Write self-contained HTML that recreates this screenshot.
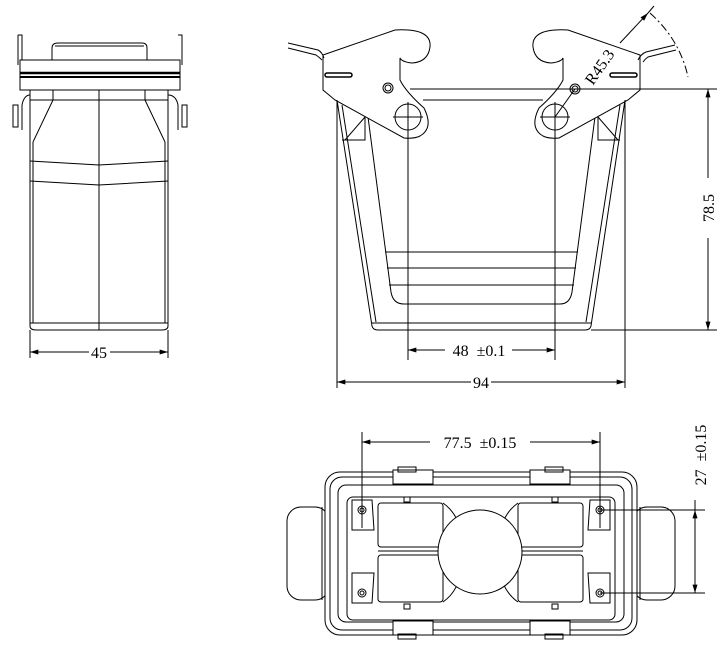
<!DOCTYPE html>
<html><head><meta charset="utf-8"><style>
html,body{margin:0;padding:0;background:#fff}
svg{display:block}
text{font-family:"Liberation Serif","Noto Serif CJK SC",serif;font-size:16px;fill:#000}
</style></head><body>
<svg width="726" height="651" viewBox="0 0 726 651" xmlns="http://www.w3.org/2000/svg">
<defs>
<marker id="a" viewBox="0 0 10 6" refX="10" refY="3" markerWidth="12" markerHeight="5" orient="auto-start-reverse" markerUnits="userSpaceOnUse"><path d="M0,0 L10,3 L0,6 z" fill="#000"/></marker>
</defs>
<g fill="none" stroke="#000" stroke-width="1">
<!-- SIDE VIEW -->
<path d="M52,60 L52,48 Q52,43 58,43 L142,43 Q147,43 147,48 L147,60"/>
<line x1="55" y1="46" x2="144" y2="46"/>
<path d="M18,35 L22,35 L22,60 M178,35 L182,35 L182,60 M18,35 L18,65 M182,35 L182,65"/>
<rect x="20" y="60" width="160" height="30"/>
<line x1="20" y1="73" x2="180" y2="73" stroke-width="2.5"/>
<line x1="20" y1="77" x2="180" y2="77" stroke-width="2"/>
<path d="M30,90 L30,326 Q30,330 36,330 L162,330 Q168,330 168,326 L168,90"/>
<line x1="33" y1="142" x2="33" y2="323"/><line x1="165" y1="142" x2="165" y2="323"/>
<line x1="30" y1="100" x2="168" y2="100"/>
<line x1="53" y1="100" x2="53" y2="90"/><line x1="145" y1="100" x2="145" y2="90"/>
<path d="M53,100 L33,142 M145,100 L165,142"/>
<line x1="99" y1="90" x2="99" y2="330"/>
<path d="M30,161 L99,165 L168,161 M30,181 L99,185 L168,181"/>
<line x1="30" y1="323" x2="168" y2="323"/>
<path d="M30,95 Q24,95 22,105 L22,130 M168,95 Q176,95 178,105 L178,130"/>
<rect x="13" y="105" width="5" height="22"/><rect x="182" y="105" width="5" height="22"/>
<line x1="30" y1="330" x2="30" y2="358"/><line x1="168" y1="330" x2="168" y2="358"/>
<line x1="30" y1="352" x2="89" y2="352" marker-start="url(#a)"/>
<line x1="110" y1="352" x2="168" y2="352" marker-end="url(#a)"/>

<!-- FRONT VIEW -->
<path d="M337,100 L372,326 Q373,330 378,330 L585,330 Q590,330 591,326 L625,100"/>
<path d="M342,105 L376,322 M620,105 L586,322"/>
<line x1="372" y1="323" x2="591" y2="323"/>
<path d="M368,117 L391,292 Q393,304 404,304 L560,304 Q570,304 572,292 L595,117"/>
<path d="M365,117 L365,140 L342,140 M598,117 L598,140 L620,140 M365,117 L345,140 M598,117 L618,140"/>
<line x1="385" y1="252" x2="578" y2="252"/><line x1="387" y1="268" x2="576" y2="268"/><line x1="389" y1="285" x2="574" y2="285"/>
<path d="M323,55 L395,30 Q432,28 430,47 Q428,62 412,63 Q402,62 400,58 L400,80 Q406,92 424,108 Q434,128 420,136 Q414,139 404,138 L335,100 L323,90 Z" fill="#fff"/>
<circle cx="408" cy="117" r="13" fill="#fff"/>
<line x1="393" y1="117" x2="423" y2="117"/><line x1="408" y1="102" x2="408" y2="360"/>
<circle cx="388" cy="88" r="5"/><circle cx="388" cy="88" r="3"/>
<path d="M640,55 L568,30 Q531,28 533,47 Q535,62 551,63 Q561,62 563,58 L563,80 Q557,92 539,108 Q529,128 543,136 Q549,139 559,138 L628,100 L640,90 Z" fill="#fff"/>
<circle cx="555" cy="117" r="13" fill="#fff"/>
<line x1="540" y1="117" x2="570" y2="117"/><line x1="555" y1="102" x2="555" y2="360"/>
<circle cx="575" cy="89" r="5"/><circle cx="575" cy="89" r="3"/>
<line x1="423" y1="100" x2="543" y2="100"/>
<line x1="410" y1="89" x2="717" y2="89"/>
<line x1="591" y1="330" x2="717" y2="330"/>
<path d="M288,43 L318,50 Q322,52 324,58 M288,48 L316,55 Q319,57 322,60"/>
<path d="M675,45 L646,52 Q641,54 638,60 M676,50 L648,57 Q645,59 643,62"/>
<rect x="325" y="73" width="27" height="4" rx="2" stroke-width="1.5"/>
<rect x="610" y="73" width="27" height="4" rx="2" stroke-width="1.5"/>
<line x1="337" y1="100" x2="337" y2="388"/><line x1="625" y1="100" x2="625" y2="388"/>
<path d="M650,13 Q680,40 688,77" stroke-dasharray="8,3,2,3"/>
<line x1="555" y1="117" x2="575" y2="89"/>
<line x1="620" y1="43" x2="648" y2="13" marker-end="url(#a)"/>
<line x1="648" y1="13" x2="654" y2="6"/>
<line x1="708" y1="89" x2="708" y2="178" marker-start="url(#a)"/>
<line x1="708" y1="238" x2="708" y2="330" marker-end="url(#a)"/>
<line x1="408" y1="350" x2="445" y2="350" marker-start="url(#a)"/>
<line x1="512" y1="350" x2="555" y2="350" marker-end="url(#a)"/>
<line x1="337" y1="382" x2="471" y2="382" marker-start="url(#a)"/>
<line x1="491" y1="382" x2="625" y2="382" marker-end="url(#a)"/>

<!-- BOTTOM VIEW -->
<rect x="287" y="507" width="42" height="93" rx="14"/>
<rect x="633" y="507" width="42" height="93" rx="14"/>
<line x1="322" y1="507" x2="322" y2="600"/><line x1="640" y1="507" x2="640" y2="600"/>
<rect x="325" y="472" width="312" height="163" rx="15" fill="#fff"/>
<rect x="330" y="477" width="302" height="153" rx="12"/>
<rect x="338" y="485" width="286" height="137" rx="8"/>
<rect x="347" y="497" width="268" height="123" rx="6"/>
<rect x="378" y="503" width="65" height="44" rx="3"/>
<rect x="378" y="555" width="65" height="47" rx="3"/>
<rect x="518" y="503" width="65" height="44" rx="3"/>
<rect x="518" y="555" width="65" height="47" rx="3"/>
<path d="M443,503 Q460,515 462,540 M443,602 Q460,590 462,565 M518,503 Q501,515 499,540 M518,602 Q501,590 499,565"/>
<path d="M378,551 L443,551 M518,551 L583,551"/>
<circle cx="480" cy="552" r="42" fill="#fff"/>
<path d="M352,500 L372,500 L374,530 L352,530 Z M352,603 L372,603 L374,573 L352,573 Z M610,500 L590,500 L588,530 L610,530 Z M610,603 L590,603 L588,573 L610,573 Z"/>
<circle cx="362" cy="510" r="4"/><circle cx="362" cy="510" r="2"/>
<circle cx="362" cy="593" r="4"/><circle cx="362" cy="593" r="2"/>
<circle cx="600" cy="510" r="4"/><circle cx="600" cy="510" r="2"/>
<circle cx="600" cy="593" r="4"/><circle cx="600" cy="593" r="2"/>
<rect x="393" y="470" width="40" height="14" fill="#fff"/><rect x="398" y="467" width="18" height="5"/>
<rect x="530" y="470" width="40" height="14" fill="#fff"/><rect x="545" y="467" width="18" height="5"/>
<rect x="393" y="621" width="40" height="14" fill="#fff"/><rect x="398" y="634" width="18" height="5"/>
<rect x="530" y="621" width="40" height="14" fill="#fff"/><rect x="545" y="634" width="18" height="5"/>
<rect x="404" y="497" width="6" height="5"/><rect x="552" y="497" width="6" height="5"/>
<rect x="404" y="604" width="6" height="5"/><rect x="552" y="604" width="6" height="5"/>
<line x1="362" y1="432" x2="362" y2="528"/><line x1="600" y1="432" x2="600" y2="528"/>
<line x1="362" y1="442" x2="430" y2="442" marker-start="url(#a)"/>
<line x1="530" y1="442" x2="600" y2="442" marker-end="url(#a)"/>
<line x1="600" y1="510" x2="705" y2="510"/><line x1="600" y1="593" x2="705" y2="593"/>
<line x1="695" y1="500" x2="695" y2="510"/>
<line x1="695" y1="510" x2="695" y2="593" marker-start="url(#a)" marker-end="url(#a)"/>
</g>
<text x="99" y="358" text-anchor="middle">45</text>
<text x="479" y="356" text-anchor="middle" xml:space="preserve">48  ±0.1</text>
<text x="481" y="388" text-anchor="middle">94</text>
<text x="480" y="448" text-anchor="middle" xml:space="preserve">77.5  ±0.15</text>
<text transform="translate(714,208) rotate(-90)" text-anchor="middle">78.5</text>
<text transform="translate(706,455) rotate(-90)" text-anchor="middle" xml:space="preserve">27  ±0.15</text>
<text transform="translate(604,70) rotate(-55)" text-anchor="middle" font-size="14">R45.3</text>
</svg>
</body></html>
